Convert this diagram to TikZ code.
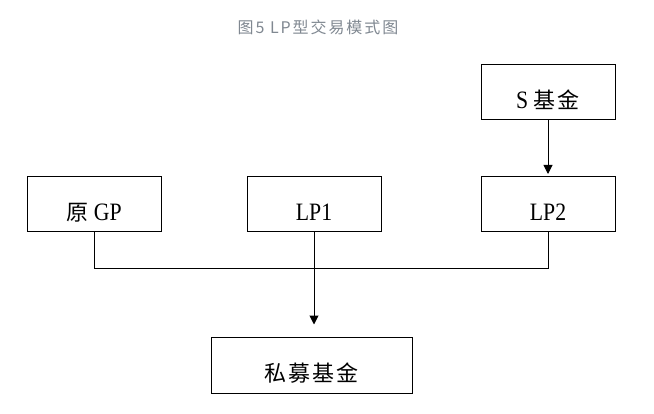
\documentclass[tikz,border=0pt]{standalone}
\usepackage{fontspec}
\setmainfont{Liberation Serif}[FakeStretch=0.87]
\newfontfamily\cjk[Scale=0.88,LetterSpace=10]{Noto Sans CJK SC}
\newfontfamily\titlefont[LetterSpace=12]{Noto Sans CJK SC}
\usetikzlibrary{arrows.meta}
\definecolor{titlegray}{RGB}{128,136,145}
\newcommand{\boxtext}[1]{\raisebox{-16pt}[0pt][0pt]{#1}}
\tikzset{
  party/.style={draw,line width=1pt,minimum width=134pt,minimum height=55pt,
    inner sep=0pt,font=\fontsize{25}{27}\selectfont},
  link/.style={line width=1pt},
  flow/.style={line width=1pt,-{Triangle[length=9pt,width=9pt]}}
}
\begin{document}
\begin{tikzpicture}[x=1pt,y=1pt]
            \useasboundingbox (0,0) rectangle (654,413);
            %title
            \node[font=\titlefont\fontsize{16}{18}\selectfont,text=titlegray] (title) at (318,386) {图5 LP型交易模式图};
            %the parties
            \node[party] (gp) at (94,208.5) {\boxtext{{\cjk 原} GP}};
            \node[party] (lpone) at (314,208.5) {\boxtext{LP1}};
            \node[party] (lptwo) at (548,208.5) {\boxtext{LP2}};
            \node[party] (sfund) at (548,320.5) {\boxtext{S {\cjk 基金}}};
            \node[party,minimum width=201pt,minimum height=56pt] (pfund) at (311.5,48) {\boxtext{\cjk 私募基金}};
            %joining line under the three boxes
            \coordinate (join) at (314,144);
            \draw[link] (gp.south) -- (gp.south |- join) -- (lptwo.south |- join) -- (lptwo.south);
            \draw[flow,shorten >=12pt] (lpone.south) -- (lpone.south |- pfund.north);
            \draw[flow,shorten >=2.5pt] (sfund.south) -- (lptwo.north);
\end{tikzpicture}
\end{document}
